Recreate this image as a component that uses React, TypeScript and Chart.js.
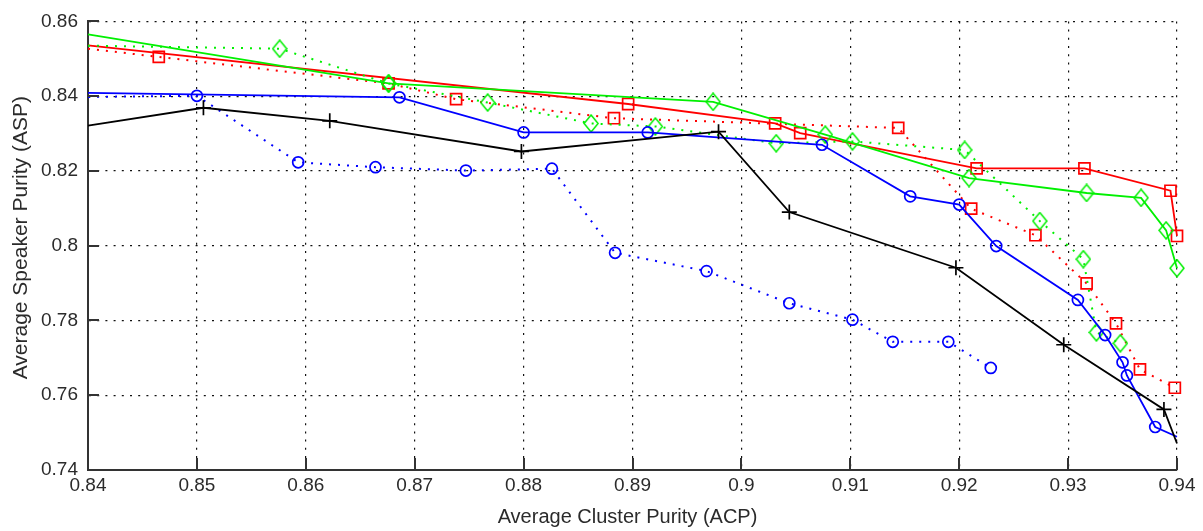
import { useEffect, useRef } from 'react';
import { Chart, registerables } from 'chart.js';

Chart.register(...registerables);

// Axis ranges and tick positions
const X_TICKS = [0.84, 0.85, 0.86, 0.87, 0.88, 0.89, 0.9, 0.91, 0.92, 0.93, 0.94];
const Y_TICKS = [0.74, 0.76, 0.78, 0.8, 0.82, 0.84, 0.86];

const X_TITLE = 'Average Cluster Purity (ACP)';
const Y_TITLE = 'Average Speaker Purity (ASP)';

// Operating points as [ACP, ASP]
const redSolid: [number, number][] = [
  [0.84, 0.8536], [0.8896, 0.8379], [0.9031, 0.8327], [0.9054, 0.8301],
  [0.9216, 0.8207], [0.9315, 0.8207], [0.9394, 0.8147], [0.94, 0.8026],
];
const redDotted: [number, number][] = [
  [0.84, 0.8527], [0.8465, 0.8505], [0.8676, 0.8434], [0.8738, 0.8392],
  [0.8883, 0.8341], [0.9144, 0.8315], [0.9211, 0.8099], [0.927, 0.8028],
  [0.9317, 0.7899], [0.9344, 0.7792], [0.9366, 0.7669], [0.9398, 0.762],
];
const greenSolid: [number, number][] = [
  [0.84, 0.8565], [0.8676, 0.8434], [0.8974, 0.8385], [0.9077, 0.8297],
  [0.9209, 0.8181], [0.9317, 0.8141], [0.9367, 0.8128], [0.939, 0.8041],
  [0.94, 0.794],
];
const greenDotted: [number, number][] = [
  [0.84, 0.8535], [0.8576, 0.8527], [0.8676, 0.8434], [0.8767, 0.8383],
  [0.8862, 0.8327], [0.8921, 0.8319], [0.9032, 0.8274], [0.9102, 0.8279],
  [0.9205, 0.8256], [0.9274, 0.8066], [0.9314, 0.7964], [0.9326, 0.7768],
  [0.9348, 0.7739],
];
const blueSolid: [number, number][] = [
  [0.84, 0.8409], [0.8686, 0.8397], [0.88, 0.8303], [0.8914, 0.8303],
  [0.9074, 0.827], [0.9155, 0.8132], [0.92, 0.811], [0.9234, 0.7999],
  [0.9309, 0.7855], [0.9334, 0.7761], [0.935, 0.7688], [0.9354, 0.7653],
  [0.938, 0.7515], [0.94, 0.7489],
];
const blueDotted: [number, number][] = [
  [0.84, 0.8398], [0.85, 0.8401], [0.8593, 0.8223], [0.8664, 0.821],
  [0.8747, 0.8201], [0.8826, 0.8206], [0.8884, 0.7981], [0.8968, 0.7932],
  [0.9044, 0.7846], [0.9102, 0.7802], [0.9139, 0.7743], [0.919, 0.7743],
  [0.9229, 0.7673],
];
const blackSolid: [number, number][] = [
  [0.84, 0.8321], [0.8506, 0.8369], [0.8622, 0.8334], [0.8798, 0.8252],
  [0.8979, 0.8305], [0.9044, 0.809], [0.9197, 0.7941], [0.9296, 0.7735],
  [0.9388, 0.7562], [0.94, 0.7471],
];

const FONT = '"Liberation Sans", Arial, Helvetica, sans-serif';
const TEXT = '#2b2b2b';
const GREEN = '#00f000';

function makeDiamond(color: string): HTMLCanvasElement {
  const c = document.createElement('canvas');
  c.width = 16;
  c.height = 19;
  const g = c.getContext('2d')!;
  g.strokeStyle = color;
  g.lineWidth = 1.5;
  g.beginPath();
  g.moveTo(8, 1);
  g.lineTo(15, 9.5);
  g.lineTo(8, 18);
  g.lineTo(1, 9.5);
  g.closePath();
  g.stroke();
  return c;
}

type SeriesDef = {
  data: [number, number][];
  color: string;
  dotted: boolean;
  marker: any;
  radius: number;
  bareStart: boolean;
  bareEnd: boolean;
};

const fmt = (v: number) => String(Number(v.toFixed(2)));

// Small inward tick marks on the left and bottom axes
const inwardTicks = {
  id: 'inwardTicks',
  afterDraw(chart: any) {
    const { ctx, chartArea, scales } = chart;
    ctx.save();
    ctx.strokeStyle = '#333';
    ctx.lineWidth = 2;
    ctx.beginPath();
    for (const v of X_TICKS) {
      const px = Math.round(scales.x.getPixelForValue(v));
      ctx.moveTo(px, chartArea.bottom);
      ctx.lineTo(px, chartArea.bottom - 12);
    }
    for (const v of Y_TICKS) {
      const py = Math.round(scales.y.getPixelForValue(v));
      ctx.moveTo(chartArea.left, py);
      ctx.lineTo(chartArea.left + 11, py);
    }
    ctx.stroke();
    ctx.restore();
  },
};

// Axis titles
const axisTitles = {
  id: 'axisTitles',
  afterDraw(chart: any) {
    const { ctx, chartArea } = chart;
    ctx.save();
    ctx.fillStyle = TEXT;
    ctx.textAlign = 'center';
    ctx.textBaseline = 'alphabetic';
    ctx.font = `20px ${FONT}`;
    ctx.fillText(X_TITLE, (chartArea.left + chartArea.right) / 2 - 5, chartArea.bottom + 53);
    ctx.translate(27, (chartArea.top + chartArea.bottom) / 2 - 8);
    ctx.rotate(-Math.PI / 2);
    ctx.font = `21px ${FONT}`;
    ctx.fillText(Y_TITLE, 0, 0);
    ctx.restore();
  },
};

export default function App() {
  const ref = useRef<HTMLCanvasElement | null>(null);

  useEffect(() => {
    if (!ref.current) return;
    const diamond = makeDiamond(GREEN);

    const series: SeriesDef[] = [
      { data: blackSolid, color: '#000000', dotted: false, marker: 'cross', radius: 7.5, bareStart: true, bareEnd: true },
      { data: blueDotted, color: '#0000ff', dotted: true, marker: 'circle', radius: 5.5, bareStart: true, bareEnd: false },
      { data: blueSolid, color: '#0000ff', dotted: false, marker: 'circle', radius: 5.5, bareStart: true, bareEnd: true },
      { data: greenDotted, color: GREEN, dotted: true, marker: diamond, radius: 8, bareStart: true, bareEnd: false },
      { data: greenSolid, color: GREEN, dotted: false, marker: diamond, radius: 8, bareStart: true, bareEnd: false },
      { data: redDotted, color: '#ff0000', dotted: true, marker: 'rect', radius: 7.8, bareStart: true, bareEnd: false },
      { data: redSolid, color: '#ff0000', dotted: false, marker: 'rect', radius: 7.8, bareStart: true, bareEnd: false },
    ];

    const datasets = series.map((s) => {
      const n = s.data.length;
      const radii = s.data.map((_, i) =>
        (i === 0 && s.bareStart) || (i === n - 1 && s.bareEnd) ? 0 : s.radius
      );
      return {
        data: s.data.map(([x, y]) => ({ x, y })),
        showLine: true,
        borderColor: s.color,
        borderWidth: s.dotted ? 2 : 1.8,
        borderDash: s.dotted ? [2, 7] : [],
        tension: 0,
        pointStyle: s.marker,
        pointRadius: radii,
        pointBorderColor: s.color,
        pointBackgroundColor: 'rgba(0,0,0,0)',
        pointBorderWidth: 1.7,
        clip: false as const,
      };
    });

    const chart = new Chart(ref.current, {
      type: 'scatter',
      data: { datasets: datasets as any },
      plugins: [inwardTicks, axisTitles],
      options: {
        animation: false,
        responsive: false,
        events: [],
        layout: { padding: { left: 0, right: 26, top: 19, bottom: 0 } },
        plugins: { legend: { display: false }, tooltip: { enabled: false } },
        scales: {
          x: {
            type: 'linear',
            min: X_TICKS[0],
            max: X_TICKS[X_TICKS.length - 1],
            afterBuildTicks: (s: any) => { s.ticks = X_TICKS.map((value) => ({ value })); },
            afterFit: (s: any) => { s.height = 61; },
            grid: { color: '#111', lineWidth: 1.2, drawTicks: false },
            border: { display: true, color: '#333', width: 2, dash: [2, 6.2] },
            ticks: {
              padding: 4,
              color: TEXT,
              font: { family: FONT, size: 19 },
              callback: (v: any) => fmt(Number(v)),
              maxRotation: 0,
              autoSkip: false,
            },
          },
          y: {
            type: 'linear',
            min: Y_TICKS[0],
            max: Y_TICKS[Y_TICKS.length - 1],
            afterBuildTicks: (s: any) => { s.ticks = Y_TICKS.map((value) => ({ value })); },
            afterFit: (s: any) => { s.width = 88; },
            grid: { color: '#111', lineWidth: 1.2, drawTicks: false },
            border: { display: true, color: '#333', width: 2, dash: [2, 6.2] },
            ticks: {
              padding: 10,
              color: TEXT,
              font: { family: FONT, size: 19 },
              callback: (v: any) => fmt(Number(v)),
              autoSkip: false,
            },
          },
        },
      },
    });
    return () => chart.destroy();
  }, []);

  return (
    <div style={{ position: 'absolute', left: 0, top: 0, width: 1203, height: 531, background: '#fff' }}>
      <canvas ref={ref} width={1203} height={531} style={{ display: 'block' }} />
    </div>
  );
}
